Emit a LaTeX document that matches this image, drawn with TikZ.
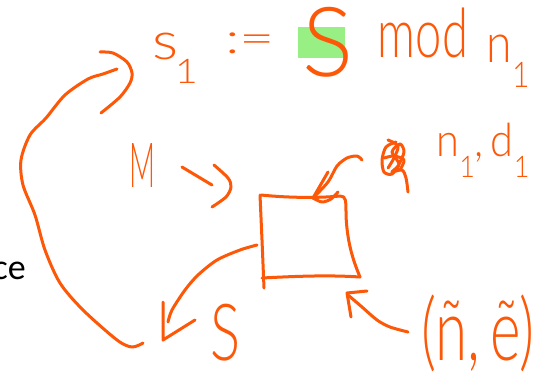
\documentclass[tikz,border=0pt]{standalone}
\usepackage{fontspec}
\usepackage{graphicx}
\newfontfamily\calibri{Carlito}
\IfFontExistsTF{Poppins-ExtraLight.otf}{\newfontfamily\penfont{Poppins-ExtraLight.otf}}{%
  \IfFontExistsTF{Lato-Light.ttf}{\newfontfamily\penfont{Lato-Light.ttf}}{%
    \IfFontExistsTF{OpenSans-Light.ttf}{\newfontfamily\penfont{OpenSans-Light.ttf}}{%
      \newfontfamily\penfont{Liberation Sans}}}}
\definecolor{pen}{RGB}{252,88,8}
\definecolor{hl}{RGB}{152,240,133}
\newcommand\fitto[3]{\resizebox*{#1}{#2}{#3}}
\newcommand\sub[1]{\raisebox{-0.45em}{\fontsize{0.65em}{1em}\selectfont #1}}
\tikzset{
  ink/.style={draw=pen, line width=3pt, line cap=round, line join=round},
  hw/.style={text=pen, inner sep=0pt, outer sep=0pt, font=\penfont},
}
\begin{document}
\begin{tikzpicture}[x=1pt,y=-1pt]
\useasboundingbox (0,0) rectangle (553,372);
\fill[white] (0,0) rectangle (553,372);
% highlight behind the big S
\fill[hl] (298,27) rectangle (345,58);
% handwritten texts
\node[hw] (s1) at (175,58) {\fitto{46pt}{50pt}{s\kern-0.05em\sub{1}}};
\node[hw] (assign) at (250,43) {\fitto{50pt}{21pt}{:=}};
\node[hw] (bigS) at (328,42) {\fitto{51pt}{70pt}{S}};
\node[hw] (mod) at (423,33) {\fitto{90pt}{50pt}{mod}};
\node[hw] (n1top) at (508,61) {\fitto{43pt}{52pt}{n\sub{1}}};
\node[hw] (M) at (142,165) {\fitto{26pt}{44pt}{M}};
\node[hw] (key) at (483,150) {\fitto{93pt}{54pt}{n\sub{1},\,d\sub{1}}};
\node[hw] (Sbot) at (225,333) {\fitto{30pt}{57pt}{S}};
\node[hw] (ne) at (478,333) {\fitto{113pt}{77pt}{(\~{n},\,\~{e})}};
\node[anchor=base east, inner sep=0pt] (ce) at (26,279) {\calibri\fontsize{36}{40}\selectfont ce};
% crossed-out scribble
\draw[ink] plot[smooth] coordinates {(396,142) (386,147) (382,160) (384,172) (392,174) (399,164) (392,152) (400,144) (404,152) (398,166) (392,172) (402,170) (406,178) (408,192)};
\draw[ink] plot[smooth] coordinates {(388,140) (398,146) (394,158) (388,168)};
\draw[ink] plot[smooth] coordinates {(384,158) (394,156) (404,160) (400,170)};
% box
\coordinate (tl) at (262,195);
\coordinate (tr) at (345,197);
\coordinate (br) at (360,277);
\coordinate (bl) at (262,278);
\draw[ink] (260,195) -- (262,240) -- (264,288);
\draw[ink] (261,195) .. controls (290,198) and (320,198) .. (340,196) .. controls (346,196) and (346,200) .. (346,215) .. controls (347,240) and (352,258) .. (360,277);
\draw[ink] (360,277) .. controls (330,275) and (300,276) .. (262,278);
% M arrow
\draw[ink] (182,167) -- (212,185);
\draw[ink] plot[smooth] coordinates {(214,165) (228,178) (231,187) (226,197) (212,207)};
% scribble -> box arrow
\draw[ink] plot[smooth] coordinates {(362,160) (357,156) (347,158) (337,166) (328,182) (313,198)};
\draw[ink] (328,172) -- (313,198);
\draw[ink] plot[smooth] coordinates {(313,198) (322,202) (331,199) (338,192)};
% box -> S arrow
\draw[ink] plot[smooth] coordinates {(257,245) (240,250) (217,260) (198,275) (185,290) (172,310) (168,322)};
\draw[ink] (163,302) -- (163,340) -- (195,320);
% (n,e) -> box arrow
\draw[ink] plot[smooth] coordinates {(408,332) (390,327) (377,320) (362,307) (348,295)};
\draw[ink] (367,291) -- (347,293) -- (351,317);
% long arc from S up to s1
\draw[ink] plot[smooth] coordinates {(143,343) (132,347) (117,340) (83,310) (60,283) (45,250) (35,215) (23,185) (21,160) (30,135) (46,118) (65,95) (88,79) (103,74) (117,69)};
\draw[ink] plot[smooth] coordinates {(100,52) (113,53) (127,62) (132,73) (130,83) (120,97) (101,113)};
\end{tikzpicture}
\end{document}
